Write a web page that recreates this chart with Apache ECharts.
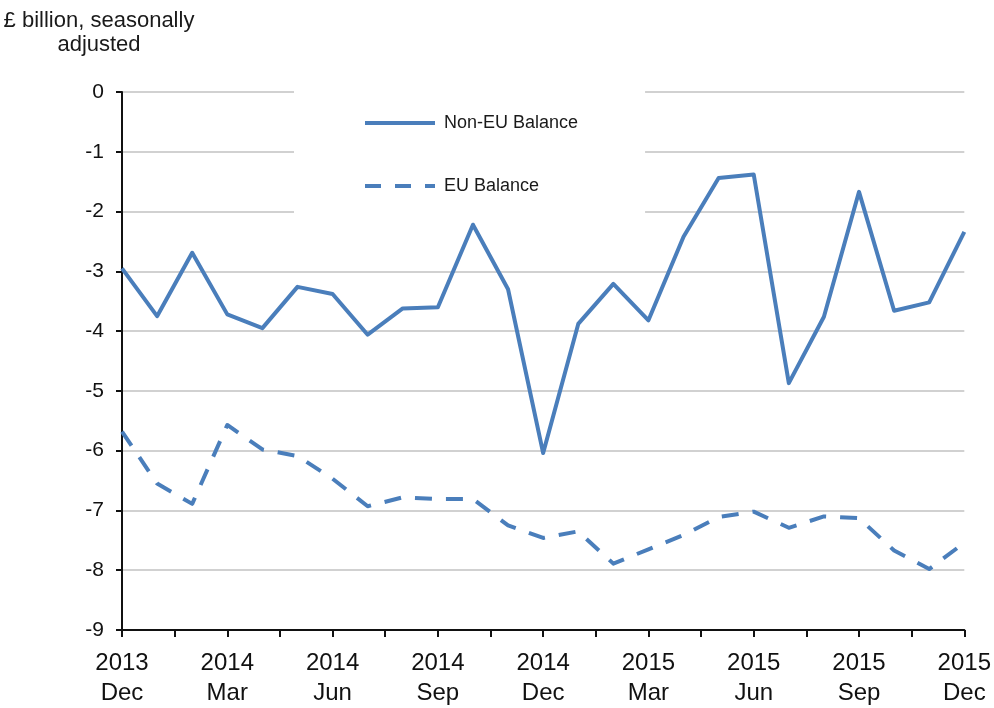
<!DOCTYPE html>
<html>
<head>
<meta charset="utf-8">
<script src="https://cdn.jsdelivr.net/npm/echarts@6/dist/echarts.min.js"></script>
<style>
  html, body { margin: 0; padding: 0; background: #fff; }
  #chart { width: 994px; height: 708px; }
</style>
</head>
<body>
<div id="chart"></div>
<script>
// monthly, 2013 Dec .. 2015 Dec
var months = ['2013 Dec', '2014 Jan', '2014 Feb', '2014 Mar', '2014 Apr', '2014 May', '2014 Jun',
  '2014 Jul', '2014 Aug', '2014 Sep', '2014 Oct', '2014 Nov', '2014 Dec',
  '2015 Jan', '2015 Feb', '2015 Mar', '2015 Apr', '2015 May', '2015 Jun',
  '2015 Jul', '2015 Aug', '2015 Sep', '2015 Oct', '2015 Nov', '2015 Dec'];

var nonEuBalance = [-2.95, -3.75, -2.69, -3.72, -3.95, -3.26, -3.38, -4.06, -3.62, -3.60, -2.22, -3.30, -6.04,
  -3.88, -3.21, -3.82, -2.42, -1.44, -1.38, -4.87, -3.76, -1.67, -3.66, -3.52, -2.34];

var euBalance = [-5.68, -6.55, -6.89, -5.57, -5.98, -6.09, -6.47, -6.93, -6.78, -6.81, -6.81, -7.25, -7.46,
  -7.35, -7.89, -7.65, -7.41, -7.11, -7.02, -7.29, -7.10, -7.13, -7.67, -7.98, -7.54];

// labels shown every quarter
var tickLabels = ['2013\nDec', '2014\nMar', '2014\nJun', '2014\nSep', '2014\nDec',
  '2015\nMar', '2015\nJun', '2015\nSep', '2015\nDec'];

var font = '"Liberation Sans", Arial, sans-serif';
var blue = '#4a7ebb';
var dash = [17, 14];

var chart = echarts.init(document.getElementById('chart'));

function pairs(arr) {
  return arr.map(function (v, i) { return [i, v]; });
}

var option = {
  animation: false,
  backgroundColor: '#fff',
  textStyle: { fontFamily: font },
  graphic: [{
    type: 'text',
    x: 99,
    y: 9,
    style: {
      text: '£ billion, seasonally\nadjusted',
      font: '22px ' + font,
      fill: '#1a1a1a',
      textAlign: 'center',
      lineHeight: 24
    }
  }],
  legend: {
    orient: 'vertical',
    left: 294,
    top: 84,
    padding: [30, 67, 22, 69],
    backgroundColor: '#fff',
    itemWidth: 70,
    itemHeight: 20,
    itemGap: 45,
    itemStyle: { opacity: 0 },
    textStyle: { fontSize: 18, color: '#1a1a1a', padding: [0, 0, 0, 4] },
    data: [
      { name: 'Non-EU Balance', lineStyle: { width: 4, color: blue } },
      { name: 'EU Balance', lineStyle: { width: 4, color: blue, type: [16, 14], cap: 'butt' } }
    ]
  },
  grid: { left: 122, right: 26, top: 92, bottom: 78 },
  xAxis: {
    type: 'value',
    min: 0,
    max: 24,
    interval: 1.5,
    axisLine: { show: true, onZero: false, lineStyle: { color: '#111', width: 2 } },
    axisTick: { show: true, length: 7, lineStyle: { color: '#111', width: 2 } },
    splitLine: { show: false },
    axisLabel: {
      margin: 18,
      fontSize: 24,
      lineHeight: 30,
      color: '#111',
      formatter: function (v) {
        if (v % 3 !== 0) return '';
        return tickLabels[v / 3] || '';
      }
    }
  },
  yAxis: {
    type: 'value',
    min: -9,
    max: 0,
    interval: 1,
    axisLine: { show: true, lineStyle: { color: '#111', width: 2 } },
    axisTick: { show: true, length: 6, lineStyle: { color: '#111', width: 2 } },
    splitLine: { show: true, lineStyle: { color: '#c2c2c2', width: 1.5 } },
    axisLabel: { margin: 18, fontSize: 21, color: '#111' }
  },
  series: [{
    name: 'Non-EU Balance',
    type: 'line',
    data: pairs(nonEuBalance),
    symbol: 'none',
    lineStyle: { color: blue, width: 4, join: 'round' },
    itemStyle: { color: blue }
  }, {
    name: 'EU Balance',
    type: 'line',
    data: pairs(euBalance),
    symbol: 'none',
    lineStyle: { color: blue, width: 4, type: dash, cap: 'butt', join: 'round' },
    itemStyle: { color: blue }
  }]
};

chart.setOption(option);
</script>
</body>
</html>
